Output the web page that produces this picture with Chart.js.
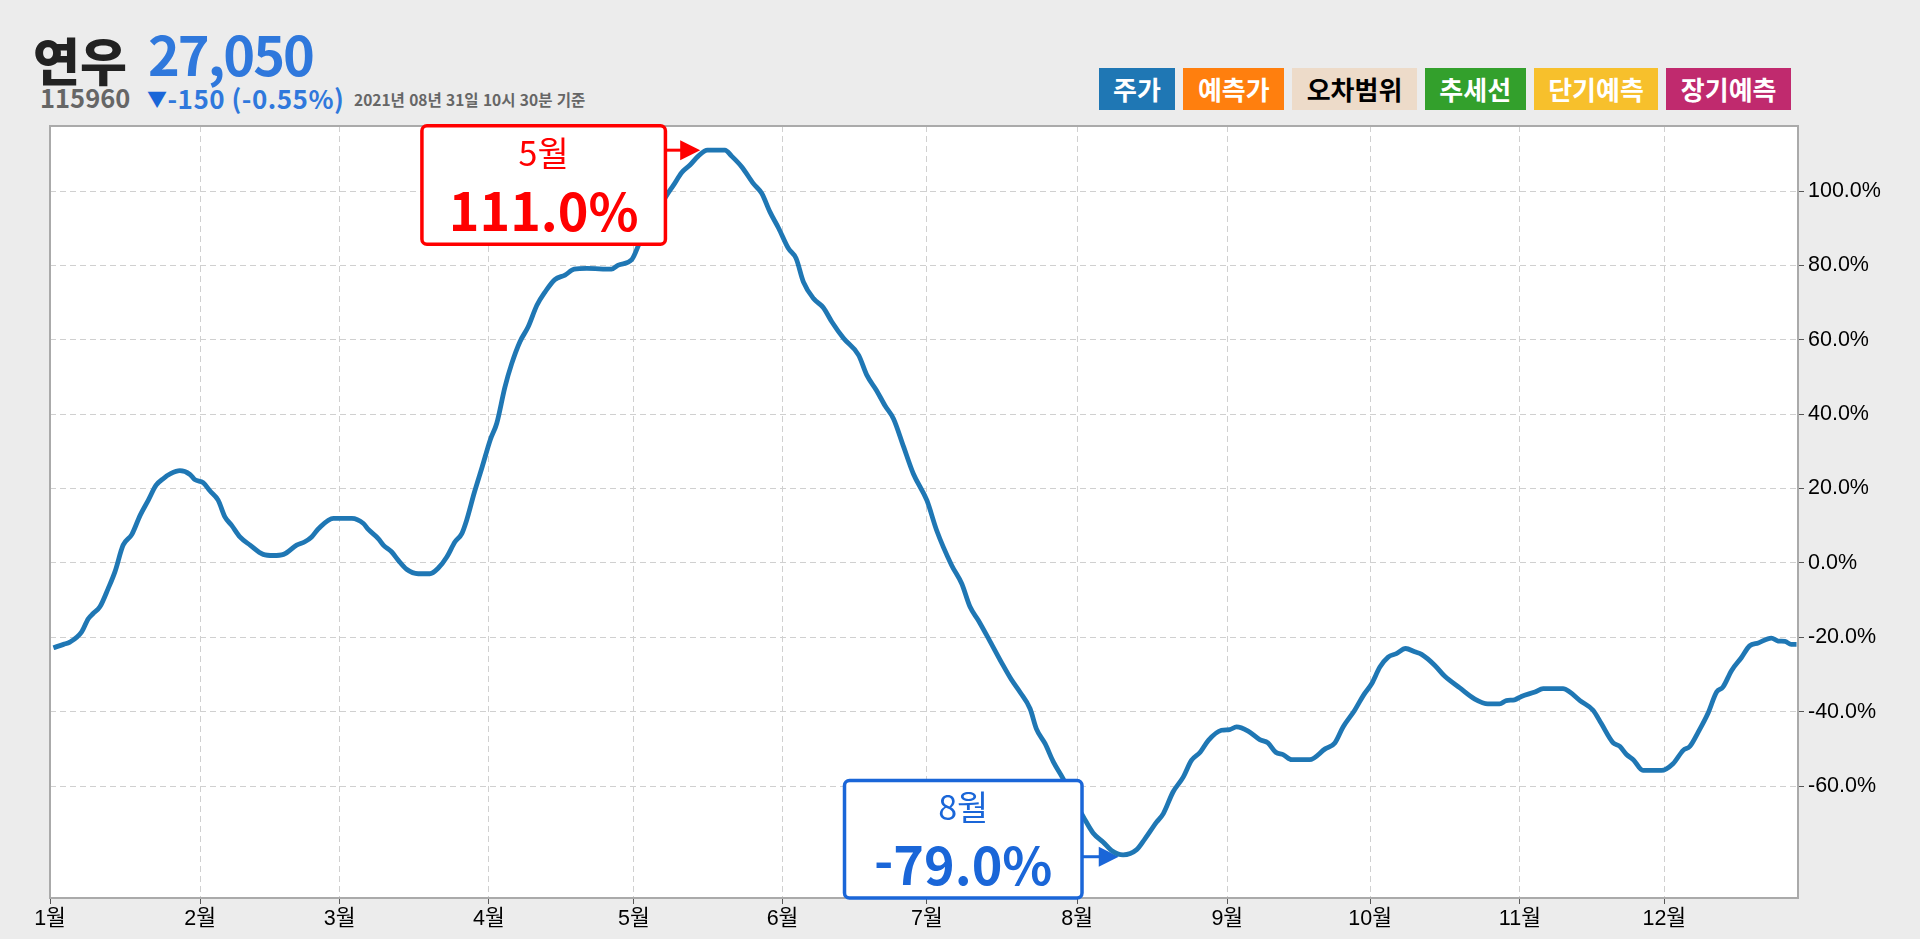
<!DOCTYPE html>
<html lang="ko">
<head>
<meta charset="utf-8">
<title>연우 115960</title>
<script src="https://cdn.jsdelivr.net/npm/chart.js@4"></script>
<style>
  html, body { margin: 0; width: 1920px; height: 939px; background: #ececec; overflow: hidden; }
  body { font-family: "Noto Sans CJK KR", sans-serif; position: relative; }
  canvas { position: absolute; left: 0; top: 0; }
  .head { position: absolute; white-space: nowrap; font-weight: 700; line-height: 1; }
  #name { left: 33px; top: 34px; font-size: 51px; font-weight: 900; color: #222; }
  #code { left: 40px; top: 84px; font-size: 25.5px; color: #666; }
  #price { left: 148px; top: 26px; font-size: 54px; color: #2f78dc; letter-spacing: -2px; }
  #change { left: 147px; top: 85px; font-size: 26px; color: #2f78dc; letter-spacing: 0.5px; }
  #change b { color: #1a66d8; font-size: 20px; vertical-align: 2px; }
  #stamp { left: 354px; top: 92px; font-size: 15.5px; color: #666; }
  #legend { position: absolute; right: 129px; top: 68px; display: flex; gap: 8px; }
  #legend span { padding: 0 14.5px; font-size: 26px; font-weight: 700; line-height: 42px; height: 42px; color: #fff; }
</style>
</head>
<body>
<div class="head" id="name">연우</div>
<div class="head" id="code">115960</div>
<div class="head" id="price">27,050</div>
<div class="head" id="change"><b>▼</b>-150 (-0.55%)</div>
<div class="head" id="stamp">2021년 08년 31일 10시 30분 기준</div>
<div id="legend"></div>
<canvas id="chart" width="1920" height="939"></canvas>
<script>
const monthStarts = [0, 31, 59.8, 90.6, 120.5, 151.2, 181, 212, 243, 272.5, 303.4, 333.2];
const monthLabels = ["1월", "2월", "3월", "4월", "5월", "6월", "7월", "8월", "9월", "10월", "11월", "12월"];
const yTicks = [-60, -40, -20, 0, 20, 40, 60, 80, 100];

const legendNames = ["주가", "예측가", "오차범위", "추세선", "단기예측", "장기예측"];
const legendColors = ["#1f77b4", "#ff7f0e", "#eddbc9", "#33a02c", "#f7c02c", "#c02a6e"];
const legendText = ["#fff", "#fff", "#000", "#fff", "#fff", "#fff"];

// day of the year
const days = [
  0.7, 2.8, 4.1, 6.5, 7.9, 8.9, 10.3, 12, 13.4, 15.1, 16.9, 18.6, 20.3, 21.9, 23.4, 24.9, 26.8, 28.9, 29.9,
  31.6, 33, 34.7, 36.1, 37.5, 39.2, 41.3, 44, 46.1, 48.2, 50.9, 52.6, 54, 55.4, 58.5,
  62.3, 64.7, 65.7, 67.8, 68.8, 70.5, 71.9, 73.6, 76, 78.4, 80.2, 81.9, 83.6, 85,
  86, 87.6, 89.2, 90.9, 92.2, 93.9, 95.3, 97, 98.7, 100.5, 102.2, 104.2, 106.3, 108.2, 110.8, 115.9, 117.3,
  120.1, 121.8, 123.5, 125.5, 127.3, 128.7, 130.4, 132.1, 133.8, 135.7, 139.3, 140.7, 142.8, 145.2, 146.9, 148.6,
  150.4, 152.4, 154, 155.5, 157.6, 159.6, 161.4, 163.8, 166.9, 168.6, 170.6, 172.4, 174.1, 176.2, 178.2,
  181, 183, 186.1, 188.2, 189.9, 191.6, 194, 196.5, 198.5, 200.2, 202.3, 203.6, 205.4, 207.1, 209.1,
  211, 213.3, 215.3, 217.4, 219.1, 221.5, 224.3, 226, 228.4, 229.8, 231.8, 233.9, 235.6, 237.4, 239.1,
  241.8, 243.5, 244.9, 247.3, 249.7, 251.4, 253, 254.6, 256.3, 260, 263.2, 265.2, 266.9, 269.3, 271.1,
  272.8, 274.5, 276.2, 277.9, 279.8, 281.7, 283.1, 285.8, 287.9, 291, 294.1, 296.8, 299.2, 300.6, 302.3,
  303.7, 306.5, 308.2, 312.3, 313.7, 315.8, 318.5, 320.2, 322.6, 324, 325.4, 326.8, 328.8, 332.6,
  335, 337.1, 338.5, 340.2, 342.2, 344, 345.3, 347.1, 349.1, 350.8, 352.6, 355.3, 356.7, 358.1, 359.4, 360.5
];

// 주가 series in percent
const returns = [
  -22.8, -21.9, -21.3, -18.6, -15, -13.6, -11.8, -6.9, -2.4, 4.8, 7.7, 12.8, 16.9, 20.9, 22.7, 24, 24.8, 23.8, 22.4,
  21.6, 19.4, 16.9, 12.4, 10.1, 7, 4.8, 2.3, 2, 2.3, 4.8, 5.7, 7, 9.2, 12,
  12, 10.6, 9, 6.5, 4.8, 3, 0.7, -1.7, -2.9, -2.9, -1.3, 1.6, 5.7, 7.9,
  11.5, 19, 25.8, 33.2, 37.5, 47.3, 53.6, 59.5, 63.5, 69.3, 72.9, 76.2, 77.4, 79, 79.2, 79, 80.1,
  81.6, 86.4, 90.5, 95, 98.9, 101.6, 105, 107, 109.4, 111, 111, 109.4, 106.5, 102, 99.4, 94.4,
  90, 84.6, 81.9, 75.6, 71.1, 68.7, 64.8, 60.4, 55.9, 50.5, 46.4, 42.2, 38.8, 31.2, 24,
  16.8, 8.8, -0.6, -5.6, -11.8, -15.4, -21, -27, -31.5, -34.7, -39.2, -44.6, -48.6, -53.5, -58,
  -63, -68.3, -72.6, -75.1, -77.3, -78.5, -77.1, -74.2, -69.7, -67.4, -61.6, -57.6, -53.1, -50.9, -47.7,
  -45, -44.8, -44.1, -45.2, -47.5, -48.4, -50.9, -51.6, -52.9, -52.9, -50, -48.4, -44.1, -39.6, -35.6,
  -32.5, -28, -25.3, -24.4, -23, -23.9, -24.6, -27.5, -30.5, -33.6, -36.6, -37.9, -37.9, -37, -36.8,
  -35.9, -34.7, -33.8, -33.8, -34.7, -37, -39.6, -43.2, -48.3, -49.3, -51.5, -52.9, -55.8, -55.8,
  -54, -50.4, -49.3, -45.5, -40.5, -34.7, -33.4, -28.9, -25.5, -22.3, -21.5, -20.2, -21, -21.1, -21.9, -21.9
];

// callouts: where the arrow points
const calloutDays = [134.2, 220.6];
const calloutValues = [111, -79];
const calloutMonths = ["5월", "8월"];
const calloutTexts = ["111.0%", "-79.0%"];
const calloutColors = ["#ff0000", "#1a66d8"];

const legend = document.getElementById("legend");
legendNames.forEach((name, i) => {
  const s = document.createElement("span");
  s.textContent = name;
  s.style.background = legendColors[i];
  s.style.color = legendText[i];
  legend.appendChild(s);
});

const boxes = [
  { dx: -278.25, dy: -24.5, w: 243.5, h: 118.5 },
  { dx: -274.25, dy: -76.25, w: 237.5, h: 117.5 }
];

const plotFrame = {
  id: "plotFrame",
  beforeDraw(chart) {
    const { ctx, chartArea: a } = chart;
    ctx.save();
    ctx.fillStyle = "#fff";
    ctx.fillRect(a.left, a.top, a.width, a.height);
    ctx.restore();
  },
  beforeDatasetsDraw(chart) {
    const { ctx, chartArea: a, scales } = chart;
    ctx.save();
    ctx.strokeStyle = "#aaa";
    ctx.lineWidth = 2;
    ctx.strokeRect(a.left, a.top, a.width, a.height);
    // arrows sit under the price line
    calloutDays.forEach((d, i) => {
      const x = scales.x.getPixelForValue(d);
      const y = scales.y.getPixelForValue(calloutValues[i]);
      ctx.strokeStyle = ctx.fillStyle = calloutColors[i];
      ctx.lineWidth = 3;
      ctx.beginPath();
      ctx.moveTo(x + boxes[i].dx + boxes[i].w, y);
      ctx.lineTo(x - 18, y);
      ctx.stroke();
      ctx.beginPath();
      ctx.moveTo(x, y);
      ctx.lineTo(x - 20, y - 10);
      ctx.lineTo(x - 20, y + 10);
      ctx.closePath();
      ctx.fill();
    });
    ctx.restore();
  },
  afterDatasetsDraw(chart) {
    const { ctx, scales } = chart;
    ctx.save();
    ctx.textAlign = "center";
    ctx.textBaseline = "alphabetic";
    calloutDays.forEach((d, i) => {
      const b = boxes[i];
      const x = scales.x.getPixelForValue(d) + b.dx;
      const y = scales.y.getPixelForValue(calloutValues[i]) + b.dy;
      ctx.beginPath();
      ctx.roundRect(x, y, b.w, b.h, 5);
      ctx.fillStyle = "#fff";
      ctx.fill();
      ctx.lineWidth = 3.5;
      ctx.strokeStyle = calloutColors[i];
      ctx.stroke();
      ctx.fillStyle = calloutColors[i];
      ctx.font = "400 34px 'Noto Sans CJK KR'";
      ctx.fillText(calloutMonths[i], x + b.w / 2, y + 40);
      ctx.font = "700 52px 'Noto Sans CJK KR'";
      ctx.fillText(calloutTexts[i], x + b.w / 2, y + 105);
    });
    ctx.restore();
  }
};

const tickFont = { family: "'Liberation Sans', 'Noto Sans CJK KR'", size: 21.5 };

new Chart(document.getElementById("chart"), {
  type: "line",
  data: {
    datasets: [{
      label: "주가",
      data: days.map((d, i) => ({ x: d, y: returns[i] })),
      borderColor: "#1f77b4",
      borderWidth: 4.8,
      pointRadius: 0,
      cubicInterpolationMode: "monotone"
    }]
  },
  plugins: [plotFrame],
  options: {
    responsive: false,
    animation: false,
    layout: { padding: { left: 50, top: 126, right: 0, bottom: 0 } },
    plugins: { legend: { display: false }, tooltip: { enabled: false } },
    scales: {
      x: {
        type: "linear",
        min: 0,
        max: 360.8,
        afterBuildTicks: axis => { axis.ticks = monthStarts.map(v => ({ value: v })); },
        afterFit: axis => { axis.height = 41; },
        border: { display: false, dash: [6, 4] },
        grid: { color: "#d0d0d0", tickColor: "#555", tickLength: 6, tickBorderDash: [] },
        ticks: {
          color: "#000",
          font: tickFont,
          padding: 2,
          maxRotation: 0,
          autoSkip: false,
          callback: v => monthLabels[monthStarts.indexOf(v)]
        }
      },
      y: {
        position: "right",
        min: -90.1,
        max: 117.5,
        afterBuildTicks: axis => { axis.ticks = yTicks.map(v => ({ value: v })); },
        afterFit: axis => { axis.width = 122; },
        border: { display: false, dash: [6, 4] },
        grid: { color: "#d0d0d0", tickColor: "#555", tickLength: 6, tickBorderDash: [] },
        ticks: {
          color: "#000",
          font: tickFont,
          padding: 4,
          callback: v => v.toFixed(1) + "%"
        }
      }
    }
  }
});
</script>
</body>
</html>
